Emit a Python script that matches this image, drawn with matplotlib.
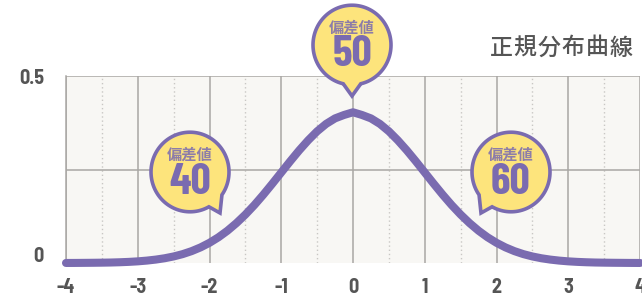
import numpy as np
import matplotlib
matplotlib.use("Agg")
import matplotlib.pyplot as plt
import matplotlib.transforms as mtransforms
from matplotlib.patches import Polygon
from matplotlib import font_manager

# ---- data ----
x_vals = [-4.0, -3.875, -3.75, -3.625, -3.5, -3.375, -3.25, -3.125, -3.0, -2.875, -2.75, -2.625,
          -2.5, -2.375, -2.25, -2.125, -2.0, -1.875, -1.75, -1.625, -1.5, -1.375, -1.25, -1.125,
          -1.0, -0.875, -0.75, -0.625, -0.5, -0.375, -0.25, -0.125, 0.0,
          0.125, 0.25, 0.375, 0.5, 0.625, 0.75, 0.875, 1.0, 1.125, 1.25, 1.375, 1.5, 1.625, 1.75,
          1.875, 2.0, 2.125, 2.25, 2.375, 2.5, 2.625, 2.75, 2.875, 3.0, 3.125, 3.25, 3.375, 3.5,
          3.625, 3.75, 3.875, 4.0]
y_vals = [0.0001, 0.0002, 0.0004, 0.0006, 0.0009, 0.0013, 0.0020, 0.0030, 0.0044, 0.0064, 0.0091, 0.0127,
          0.0175, 0.0237, 0.0317, 0.0417, 0.0540, 0.0688, 0.0863, 0.1066, 0.1295, 0.1549, 0.1826, 0.2119,
          0.2420, 0.2721, 0.3011, 0.3280, 0.3521, 0.3719, 0.3867, 0.3958, 0.4030,
          0.3958, 0.3867, 0.3719, 0.3521, 0.3280, 0.3011, 0.2721, 0.2420, 0.2119, 0.1826, 0.1549, 0.1295, 0.1066, 0.0863,
          0.0688, 0.0540, 0.0417, 0.0317, 0.0237, 0.0175, 0.0127, 0.0091, 0.0064, 0.0044, 0.0030, 0.0020, 0.0013, 0.0009,
          0.0006, 0.0004, 0.0002, 0.0001]
x_ticks = [-4, -3, -2, -1, 0, 1, 2, 3, 4]
x_tick_labels = ["-4", "-3", "-2", "-1", "0", "1", "2", "3", "4"]
y_ticks = [0, 0.5]
y_tick_labels = ["0", "0.5"]
bubble_labels = ["40", "50", "60"]
bubble_caption = "偏差値"
title = "正規分布曲線"

PURPLE = "#7a6bb0"
YELLOW = "#fde47c"
GRAY = "#555555"
GRID = "#a9a7a4"

available = {f.name for f in font_manager.fontManager.ttflist}

def pick(cands):
    for c in cands:
        if c in available:
            return c
    return "DejaVu Sans"

BIGNUM = pick(["Barlow Condensed", "Roboto Condensed", "Saira SemiCondensed", "Archivo Narrow"])
TICKNUM = pick(["Barlow Semi Condensed", "Barlow Condensed", "Roboto Condensed", "Saira SemiCondensed", "Archivo Narrow"])
CJK = ["Noto Sans CJK JP", "DejaVu Sans"]

W, H = 642, 303
fig = plt.figure(figsize=(W / 100, H / 100), dpi=100)
fig.patch.set_facecolor("white")

def fx(px):
    return px / W

def fy(py):
    return 1 - py / H

left, right, top, bottom = 66, 640, 76, 263
ax = fig.add_axes([fx(left), fy(bottom), (right - left) / W, (bottom - top) / H])
ax.set_facecolor("#f8f7f4")
ax.set_xlim(-4, 4)
ax.set_ylim(0, 0.5)

# grid
for xv in np.arange(-4, 5, 1):
    ax.axvline(xv, color=GRID, lw=1.1, zorder=1)
for xv in np.arange(-3.5, 4, 1):
    ax.axvline(xv, color="#c9c7c4", lw=1.0, ls=(0, (1, 2)), zorder=1)
for yv in [0.25, 0.5]:
    ax.axhline(yv, color=GRID, lw=1.1, zorder=1)

for s in ["top", "right", "bottom"]:
    ax.spines[s].set_visible(False)
ax.spines["left"].set_color(GRID)
ax.spines["left"].set_linewidth(1.1)

ax.plot(x_vals, y_vals, color=PURPLE, lw=5.8, solid_capstyle="round", zorder=3, clip_on=False)

tick_font = dict(family=TICKNUM, weight="bold", size=14.5, color=GRAY)
ax.set_xticks(x_ticks)
ax.set_xticklabels(x_tick_labels, fontdict=tick_font)
ax.set_yticks([])
ax.tick_params(length=0, pad=11)

# y tick labels, placed beside the axis
blend = mtransforms.blended_transform_factory(ax.transAxes, ax.transData)
y_offsets_px = [7, -2]
for val, lab, dy in zip(y_ticks, y_tick_labels, y_offsets_px):
    tr = blend + mtransforms.ScaledTranslation(-22 / 100, dy / 100, fig.dpi_scale_trans)
    ax.text(0, val, lab, transform=tr, ha="right", va="center", **tick_font)

# overlay for bubbles and title (pixel coords)
ov = fig.add_axes([0, 0, 1, 1])
ov.set_xlim(0, W)
ov.set_ylim(H, 0)
ov.axis("off")
ov.patch.set_alpha(0)

def bubble(cx, cy, r, tail_deg, tip, label):
    a0 = np.deg2rad(tail_deg)
    d = np.deg2rad(13)
    angs = np.linspace(a0 + d, a0 + 2 * np.pi - d, 120)
    pts = [(cx + r * np.cos(a), cy + r * 1.02 * np.sin(a)) for a in angs]
    pts.append(tip)
    ov.add_patch(Polygon(pts, closed=True, facecolor=YELLOW, edgecolor=PURPLE, lw=2.6, zorder=5))
    ov.text(cx, cy - 17, bubble_caption, ha="center", va="center", fontsize=11, weight="bold",
            color=PURPLE, family=CJK, zorder=6, alpha=0.85)
    ov.text(cx, cy + 10, label, ha="center", va="center", fontsize=32, weight="bold",
            color=PURPLE, family=BIGNUM, zorder=6)

bubble(352, 45, 39, 90, (352, 96), bubble_labels[1])
bubble(190, 172, 39, 48, (220, 213), bubble_labels[0])
bubble(511, 172, 39, 132, (481, 213), bubble_labels[2])

# title with letter spacing
pitch = 24.0
x_last = 621
for i, ch in enumerate(title):
    ov.text(x_last - pitch * (len(title) - 1 - i), 48, ch, ha="center", va="center", fontsize=16.5,
            color=GRAY, family=CJK, weight="medium")

fig.savefig("out.png", dpi=100, facecolor="white")
